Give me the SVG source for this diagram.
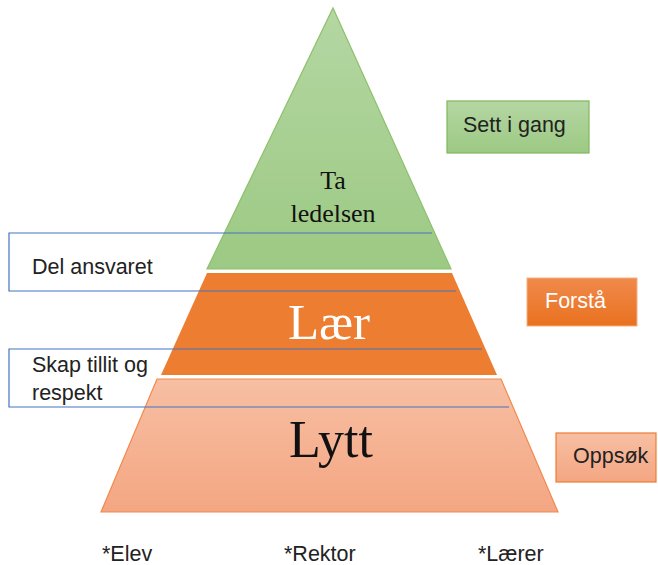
<svg xmlns="http://www.w3.org/2000/svg" width="658" height="565" viewBox="0 0 658 565">
<defs>
<linearGradient id="gGreen" x1="0" y1="0" x2="0" y2="1"><stop offset="0" stop-color="#b5d7a3"/><stop offset="1" stop-color="#9cc983"/></linearGradient>
<linearGradient id="gPeach" x1="0" y1="0" x2="0" y2="1"><stop offset="0" stop-color="#f7bfa3"/><stop offset="1" stop-color="#f4a682"/></linearGradient>
<linearGradient id="gOrange" x1="0" y1="0" x2="0" y2="1"><stop offset="0" stop-color="#f08a4c"/><stop offset="1" stop-color="#e9711f"/></linearGradient>
<style>
.sans{font-family:"Liberation Sans",Arial,sans-serif;font-size:21.5px;fill:#222}
.serif{font-family:"Liberation Serif","Times New Roman",serif;text-anchor:middle}
.callout{fill:none;stroke:#4472c4;stroke-width:1.2}
</style>
</defs>
<rect width="658" height="565" fill="#fff"/>
<g id="level-top">
<polygon points="333,8 451,269 207,269" fill="url(#gGreen)" stroke="#8cc16c" stroke-width="1.2"/>
<text class="serif" x="333" y="189" font-size="26" fill="#111">Ta</text>
<text class="serif" x="333" y="222" font-size="26" fill="#111">ledelsen</text>
</g>
<g id="level-middle">
<polygon points="207,273 452,273 497,375 161,375" fill="#ed7d31"/>
<text class="serif" x="329" y="339" font-size="51" fill="#fff">Lær</text>
</g>
<g id="level-bottom">
<polygon points="157,379 501,379 558,512 101,512" fill="url(#gPeach)" stroke="#f08a4c" stroke-width="1.2"/>
<text class="serif" x="331" y="457" font-size="52" fill="#111">Lytt</text>
</g>
<g id="sett-i-gang">
<rect x="447" y="101" width="142" height="52" fill="url(#gGreen)" stroke="#7fb85c" stroke-width="1.2"/>
<text class="sans" x="463" y="132">Sett i gang</text>
</g>
<g id="forsta">
<rect x="527" y="278" width="110" height="48" fill="url(#gOrange)" stroke="#f4b183" stroke-width="1"/>
<text class="sans" x="545" y="308" style="fill:#fff">Forstå</text>
</g>
<g id="oppsok">
<rect x="556" y="433" width="100" height="49" fill="url(#gPeach)" stroke="#ed7d31" stroke-width="1.2"/>
<text class="sans" x="573" y="463">Oppsøk</text>
</g>
<g id="connectors">
<path class="callout" d="M432,233 H9 V291 H456"/>
<path class="callout" d="M482,349 H9 V407 H509"/>
</g>
<g id="del-ansvaret">
<text class="sans" x="32" y="274">Del ansvaret</text>
</g>
<g id="skap-tillit">
<text class="sans" x="32" y="372">Skap tillit og</text>
<text class="sans" x="32" y="400">respekt</text>
</g>
<g id="roles">
<text class="sans" x="102" y="561">*Elev</text>
<text class="sans" x="284" y="561">*Rektor</text>
<text class="sans" x="478" y="561">*Lærer</text>
</g>
</svg>
